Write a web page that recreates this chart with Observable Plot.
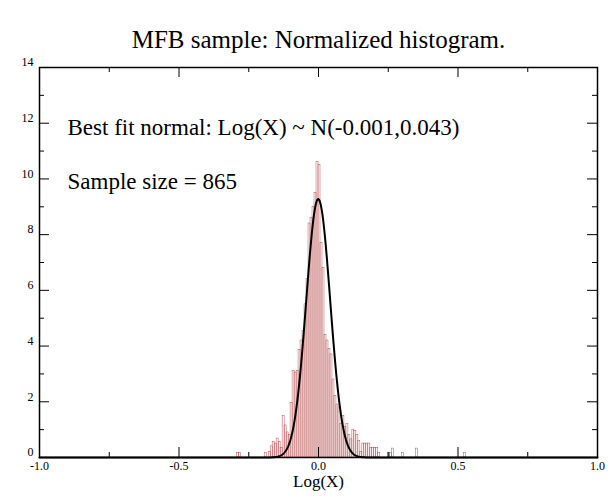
<!DOCTYPE html>
<html><head><meta charset="utf-8">
<script src="https://cdn.jsdelivr.net/npm/d3@7"></script>
<script src="https://cdn.jsdelivr.net/npm/@observablehq/plot@0.6"></script>
<style>body{margin:0;background:#fff}</style>
</head><body><div id="chart"></div>
<script>
const title = "MFB sample: Normalized histogram.";
const xLabel = "Log(X)";
const noteFit = "Best fit normal: Log(X) ~ N(-0.001,0.043)";
const noteSize = "Sample size = 865";
const fitMean = -0.001;
const fitSd = 0.043;
const xTicks = [-1, -0.5, 0, 0.5, 1];
const xTickLabels = ["-1.0", "-0.5", "0.0", "0.5", "1.0"];
const xMinor = [-0.75, -0.25, 0.25, 0.75];
const yTicks = [0, 2, 4, 6, 8, 10, 12, 14];
const yMinor = [1, 3, 5, 7, 9, 11, 13];
const binStart = -0.29286;
const binWidth = 0.0071429;
const heights = [
  0.16, 0.16, 0, 0, 0, 0, 0, 0, 0, 0, 0, 0, 0, 0, 0.16, 0,
  0.2, 0.4, 0.55, 0.5, 0.68, 0.55, 0.35, 1.5, 1.15, 0.9, 0.8, 1.95,
  3.1, 3.05, 3.1, 3.85, 4.2, 4.55, 5.5, 6.4, 8.4, 8.6, 9.0, 9.5,
  10.6, 10.5, 7.7, 6.8, 4.4, 4.2, 3.9, 3.7, 2.8, 2.2, 1.9, 1.8,
  1.2, 1.5, 1.1, 1.2, 0.8, 0.65, 1.0, 0.95, 0.8, 0.6, 0.2,
  0.5, 0.5, 0.5, 0.5, 0.35, 0.35, 0.35, 0.35, 0.16, 0, 0, 0, 0,
  0.16, 0.16, 0.32, 0, 0, 0, 0, 0.16, 0, 0, 0, 0, 0, 0, 0.32,
  0, 0, 0, 0, 0, 0, 0, 0, 0, 0, 0, 0, 0, 0, 0, 0, 0, 0, 0, 0, 0, 0, 0, 0.16
];

const bins = heights.map((h, i) => ({x1: binStart + i * binWidth, x2: binStart + (i + 1) * binWidth, h})).filter(d => d.h > 0);
const curve = d3.range(-1, 1.0001, 0.002).map(x => ({x, y: Math.exp(-0.5 * ((x - fitMean) / fitSd) ** 2) / (fitSd * Math.sqrt(2 * Math.PI))}));
const xLabelRows = xTicks.map((x, i) => ({x, label: xTickLabels[i]}));

const serif = "Liberation Serif, Times New Roman, serif";
const chart = Plot.plot({
  width: 610, height: 500,
  marginLeft: 39, marginRight: 13, marginTop: 67, marginBottom: 43,
  style: {fontFamily: serif, fontSize: "13px", background: "#fff", color: "#000"},
  x: {domain: [-1, 1], axis: null},
  y: {domain: [0, 14], axis: null},
  marks: [
    Plot.rectY(bins, {x1: "x1", x2: "x2", y: "h", fill: "none", stroke: "#b03a3a", strokeWidth: 0.45}),
    Plot.line(curve, {x: "x", y: "y", stroke: "#000", strokeWidth: 2}),
    Plot.ruleX(xTicks, {x: d => d, insetTop: 380, stroke: "#000"}),
    Plot.ruleX(xMinor, {x: d => d, insetTop: 385, stroke: "#000"}),
    Plot.ruleX(xTicks, {x: d => d, insetBottom: 380, stroke: "#000"}),
    Plot.ruleX(xMinor, {x: d => d, insetBottom: 385, stroke: "#000"}),
    Plot.ruleY(yTicks, {y: d => d, insetRight: 548, stroke: "#000"}),
    Plot.ruleY(yMinor, {y: d => d, insetRight: 553, stroke: "#000"}),
    Plot.ruleY(yTicks, {y: d => d, insetLeft: 548, stroke: "#000"}),
    Plot.ruleY(yMinor, {y: d => d, insetLeft: 553, stroke: "#000"}),
    Plot.frame({stroke: "#000", strokeWidth: 1.5}),
    Plot.text(xLabelRows, {x: "x", text: "label", frameAnchor: "bottom", dy: 12, fontSize: 12, fill: "#000"}),
    Plot.text(yTicks, {y: d => d, text: d => String(d), frameAnchor: "left", dx: -6, dy: -5, textAnchor: "end", fontSize: 12, fill: "#000"}),
    Plot.text([xLabel], {frameAnchor: "bottom", dy: 29, fontSize: 17, fill: "#000"}),
    Plot.text([title], {frameAnchor: "top", dy: -37, fontSize: 25, fill: "#000"}),
    Plot.text([noteFit], {frameAnchor: "top-left", dx: 28, dy: 51, textAnchor: "start", fontSize: 23, fill: "#000"}),
    Plot.text([noteSize], {frameAnchor: "top-left", dx: 28, dy: 105, textAnchor: "start", fontSize: 23, fill: "#000"})
  ]
});
document.getElementById("chart").append(chart);
</script>
</body></html>
